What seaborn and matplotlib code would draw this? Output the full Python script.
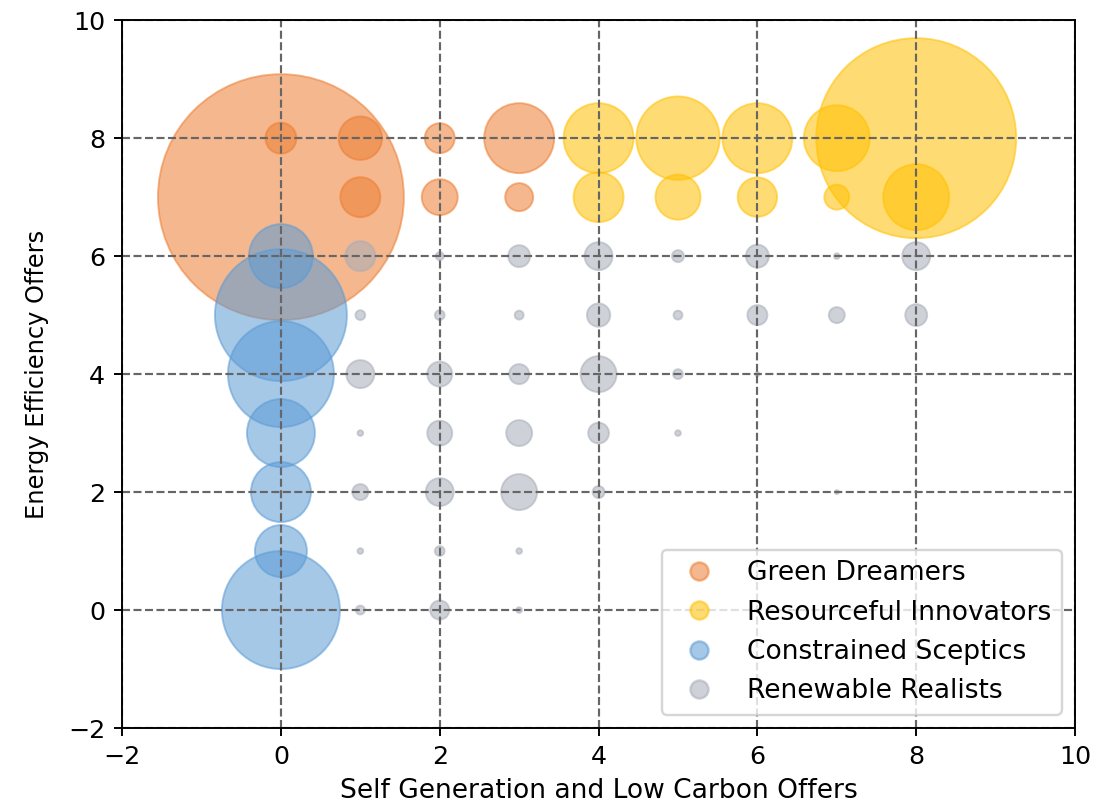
import numpy as np
import pandas as pd
import matplotlib
matplotlib.use('Agg')
import matplotlib.pyplot as plt
import seaborn as sns
from matplotlib.lines import Line2D

# segment data: offer counts on each axis, bubble = number of customers
green_x = [0, 0, 1, 1, 2, 2, 3, 3]
green_y = [7, 8, 8, 7, 8, 7, 8, 7]
green_n = [3780, 60, 118, 100, 56, 81, 306, 49]

innov_x = [8, 4, 4, 5, 5, 6, 6, 7, 7, 8]
innov_y = [8, 8, 7, 8, 7, 8, 7, 8, 7, 7]
innov_n = [2500, 306, 156, 435, 127, 306, 97, 272, 39, 272]

scept_x = [0, 0, 0, 0, 0, 0, 0]
scept_y = [6, 5, 4, 3, 2, 1, 0]
scept_n = [256, 1089, 702, 289, 225, 169, 870]

real_x = [1, 2, 3, 4, 5, 6, 7, 8,
          1, 2, 3, 4, 5, 6, 7, 8,
          1, 2, 3, 4, 5, 6,
          1, 2, 3, 4, 5,
          1, 2, 3, 4, 7,
          1, 2, 3,
          1, 2, 3]
real_y = [6, 6, 6, 6, 6, 6, 6, 6,
          5, 5, 5, 5, 5, 5, 5, 5,
          4, 4, 4, 4, 4, 4,
          3, 3, 3, 3, 3,
          2, 2, 2, 2, 2,
          1, 1, 1,
          0, 0, 0]
real_n = [56, 4, 30, 49, 9, 33, 2, 49,
          6, 6, 5, 34, 5, 25, 16, 30,
          49, 39, 25, 81, 6, 1,
          2, 39, 42, 27, 2,
          16, 49, 81, 9, 1,
          2, 6, 2,
          5, 23, 2]

segments = ["Green Dreamers", "Resourceful Innovators", "Constrained Sceptics", "Renewable Realists"]
colors = ["#ED7D31", "#FFC000", "#5B9BD5", "#A7ADB8"]

frames = []
for name, xs, ys, ns in zip(segments,
                            [green_x, innov_x, scept_x, real_x],
                            [green_y, innov_y, scept_y, real_y],
                            [green_n, innov_n, scept_n, real_n]):
    frames.append(pd.DataFrame({"x": xs, "y": ys, "n": ns, "segment": name}))
df = pd.concat(frames, ignore_index=True)

DPI = 173.4
fig = plt.figure(figsize=(1110 / DPI, 808 / DPI), dpi=DPI)
ax = fig.add_axes([0.110, 0.099, 0.8585, 0.876])

# bubble area proportional to count
pt_per_px = 72 / DPI
max_n = df["n"].max()
max_s = 16 * max_n * pt_per_px ** 2
sns.scatterplot(data=df, x="x", y="y", hue="segment", size="n",
                hue_order=segments, palette=colors,
                sizes=(0, max_s), size_norm=(0, max_n),
                alpha=0.55, linewidth=0.8, edgecolor=None,
                legend=False, ax=ax)
# edges in the same colour as the faces
for coll in ax.collections:
    coll.set_edgecolor("face")

ax.set_xlim(-2, 10)
ax.set_ylim(-2, 10)
ax.set_xticks(range(-2, 11, 2))
ax.set_yticks(range(-2, 11, 2))
ax.tick_params(labelsize=10.5)
ax.grid(True, linestyle="--", color="0.4", linewidth=0.9)
ax.set_xlabel("Self Generation and Low Carbon Offers", fontsize=11)
ax.set_ylabel("Energy Efficiency Offers", fontsize=10, labelpad=8)

handles = [Line2D([], [], linestyle="none", marker="o", markersize=7.5,
                  markerfacecolor=c, markeredgecolor=c, alpha=0.55)
           for c in colors]
ax.legend(handles, segments, loc="lower right", fontsize=11)

plt.savefig("out.png", dpi=DPI)
